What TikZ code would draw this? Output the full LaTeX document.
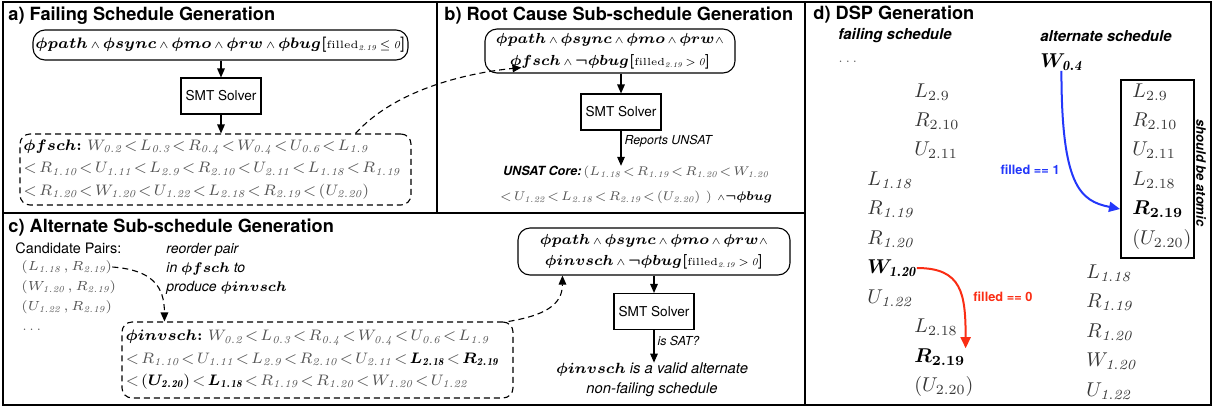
\RequirePackage{fix-cm}
\documentclass[tikz,border=0pt]{standalone}
\usepackage{amsmath,amssymb}
\usepackage{fontspec}
\setsansfont{TeX Gyre Heros}
\usetikzlibrary{arrows.meta,calc}

\definecolor{schgray}{RGB}{85,85,85}
\definecolor{dspgray}{RGB}{55,55,55}
\definecolor{fillblue}{RGB}{35,55,250}
\definecolor{fillred}{RGB}{250,45,20}

\newcommand{\ph}[1]{\boldsymbol{\phi #1}}
\newcommand{\aand}{\mathbin{\scriptstyle\wedge}}
\newcommand{\ev}[2]{#1_{\mathit{#2}}}
\newcommand{\bev}[2]{\boldsymbol{#1_{\mathit{#2}}}}
\newcommand{\filc}[1]{\boldsymbol{[}{\scriptstyle\mathrm{filled}_{\mathit{2.19}}\,#1\,\mathit{0}}\boldsymbol{]}}
% tight spacing round < and the wedges
\thickmuskip=2mu
\medmuskip=2.5mu

\begin{document}
\begin{tikzpicture}[x=0.5pt, y=-0.5pt,
  frame/.style={line width=0.75pt},
  ttl/.style={anchor=west, inner sep=0pt, font=\sffamily\bfseries\fontsize{9.1}{11}\selectfont},
  formula/.style={draw, rounded corners=6pt, line width=0.55pt, align=center, inner sep=1pt, font=\fontsize{7.3}{11}\selectfont},
  smt/.style={draw, line width=0.55pt, minimum width=40pt, minimum height=18pt, inner sep=0pt, font=\sffamily\fontsize{6.8}{8}\selectfont},
  sched/.style={draw, dash pattern=on 3pt off 2pt, rounded corners=5pt, line width=0.55pt, align=left, inner sep=1pt, text=schgray, font=\fontsize{7.6}{11.2}\selectfont},
  note/.style={font=\sffamily\itshape\fontsize{6.2}{7}\selectfont, inner sep=1.5pt},
  plain/.style={font=\sffamily\fontsize{7.2}{10}\selectfont, inner sep=0pt, anchor=west},
  item/.style={anchor=west, inner sep=0pt, text=schgray, font=\fontsize{6.6}{9}\selectfont},
  ditem/.style={item, text=dspgray, font=\fontsize{10}{12}\selectfont},
  dots/.style={anchor=west, inner sep=0pt, text=schgray, font=\fontsize{6}{7}\selectfont},
  head/.style={font=\sffamily\bfseries\itshape\fontsize{7.5}{9}\selectfont},
  flbl/.style={font=\sffamily\bfseries\fontsize{6.4}{8}\selectfont, inner sep=0pt},
  arr/.style={line width=0.55pt, -{Triangle[length=4.5pt,width=3.8pt]}},
  darr/.style={arr, dash pattern=on 3pt off 2pt},
  farr/.style={line width=1pt, -{Triangle[length=5.5pt,width=5pt]}},
]
\useasboundingbox (0,0) rectangle (1214,408);

% panel frames
\draw[frame] (3,2) rectangle (1211,405);
\draw[frame] (437,2) -- (437,213);
\draw[frame] (3,213) -- (805,213);
\draw[frame] (805,2) -- (805,405);

\node[ttl] (ta) at (8,16) {a) Failing Schedule Generation};
\node[ttl] (tb) at (444,16) {b) Root Cause Sub-schedule Generation};
\node[ttl] (tc) at (8,228) {c) Alternate Sub-schedule Generation};
\node[ttl] (td) at (813,15) {d) DSP Generation};

% a) failing schedule
\node[formula, minimum width=187.5pt, minimum height=15pt, font=\fontsize{7.6}{11}\selectfont] (failf) at (220.5,45)
  {$\ph{path}\aand\ph{sync}\aand\ph{mo}\aand\ph{rw}\aand\ph{bug}\filc{\le}$};
\node[smt] (smta) at (221,96) {SMT Solver};
\node[sched, minimum width=195.5pt, minimum height=35.5pt, text width=192pt] (fsch) at (215.5,169.5)
  {$\color{black}\boldsymbol{\phi fsch{:}}$ $\ev W{0.2} < \ev L{0.3} < \ev R{0.4} < \ev W{0.4} < \ev U{0.6} < \ev L{1.9}$\\
   $< \ev R{1.10} < \ev U{1.11} < \ev L{2.9} < \ev R{2.10} < \ev U{2.11} < \ev L{1.18} < \ev R{1.19}$\\
   $< \ev R{1.20} < \ev W{1.20} < \ev U{1.22} < \ev L{2.18} < \ev R{2.19} < (\ev U{2.20})$};
\draw[arr] (failf.south -| smta.north) -- (smta.north);
\draw[arr] (smta.south) -- (smta.south |- fsch.north);

% b) root cause
\node[formula, minimum width=125pt, minimum height=22pt] (rcf) at (610,51)
  {$\ph{path}\aand\ph{sync}\aand\ph{mo}\aand\ph{rw}\aand$\\
   $\ph{fsch}\aand\boldsymbol{\neg}\ph{bug}\filc{>}$};
\node[smt] (smtb) at (621,112) {SMT Solver};
\node[align=center, inner sep=0pt, font=\fontsize{6.3}{12.5}\selectfont] (core) at (636,185)
  {\textsf{\fontsize{6.3}{8}\selectfont\bfseries\itshape UNSAT Core:}{\color{schgray}$\;(\ev L{1.18} < \ev R{1.19} < \ev R{1.20} < \ev W{1.20}$}\\
   {\color{schgray}$< \ev U{1.22} < \ev L{2.18} < \ev R{2.19} < (\ev U{2.20})\ )$} $\aand\boldsymbol{\neg\phi bug}$};
\draw[arr] (rcf.south -| smtb.north) -- (smtb.north);
\draw[arr] (smtb.south) -- (smtb.south |- core.north) node[pos=0.3, right, note] {Reports UNSAT};
\draw[darr] ($(fsch.north east)+(-56,0)$) .. controls +(38,-42) and +(-60,6) .. ($(rcf.south west)+(37,-6)$);

% c) alternate schedule
\node[plain] (cand) at (15,248) {Candidate Pairs:};
\node[item] (p1) at (21,267) {$(\ev L{1.18}\,, \ev R{2.19})$};
\node[item] (p2) at (21,287) {$(\ev W{1.20}\,, \ev R{2.19})$};
\node[item] (p3) at (21,307) {$(\ev U{1.22}\,, \ev R{2.19})$};
\node[dots] (pdots) at (22,330) {$\ldots$};
\node[anchor=west, align=left, inner sep=0pt, font=\sffamily\itshape\fontsize{7}{9.5}\selectfont] (reord) at (166,269)
  {reorder pair\\in $\ph{fsch}$ to\\produce $\ph{invsch}$};
\node[sched, minimum width=195.5pt, minimum height=38pt, text width=192pt] (invsch) at (317.5,360)
  {$\color{black}\boldsymbol{\phi invsch{:}}$ $\ev W{0.2} < \ev L{0.3} < \ev R{0.4} < \ev W{0.4} < \ev U{0.6} < \ev L{1.9}$\\
   $< \ev R{1.10} < \ev U{1.11} < \ev L{2.9} < \ev R{2.10} < \ev U{2.11} < {\color{black}\bev L{2.18}} < {\color{black}\bev R{2.19}}$\\
   $< {\color{black}(\bev U{2.20})} < {\color{black}\bev L{1.18}} < \ev R{1.19} < \ev R{1.20} < \ev W{1.20} < \ev U{1.22}$};
\draw[darr] (p1.east) .. controls +(40,3) and +(0,-35) .. ($(invsch.north west)+(43,0)$);
\node[formula, minimum width=136pt, minimum height=23.5pt, font=\fontsize{7.3}{10.5}\selectfont] (invf) at (654,251.5)
  {$\ph{path}\aand\ph{sync}\aand\ph{mo}\aand\ph{rw}\aand$\\
   $\ph{invsch}\aand\boldsymbol{\neg}\ph{bug}\filc{>}$};
\node[smt] (smtc) at (654,311.5) {SMT Solver};
\node[align=center, inner sep=0pt, font=\sffamily\itshape\fontsize{7.4}{10}\selectfont] (valid) at (652,380)
  {$\ph{invsch}$ is a valid alternate\\non-failing schedule};
\draw[arr] (invf.south -| smtc.north) -- (smtc.north);
\draw[arr] (smtc.south) -- (smtc.south |- valid.north) node[pos=0.35, right, note] {is SAT?};
\draw[darr] ($(invsch.north east)+(-5,0)$) .. controls +(35,-6) and +(0,30) .. ($(invf.south west)+(45,0)$);

% d) DSP generation
\node[head] (fhead) at (895,36) {failing schedule};
\node[head] (ahead) at (1106,36) {alternate schedule};
\node[dots] (fdots) at (838,62) {$\ldots$};
\node[ditem, text=black] (aw04) at (1040,62) {$\bev W{0.4}$};

\foreach \nm/\xx/\yy/\tx in {fl29/914/92/{L_{2.9}}, fr210/914/121/{R_{2.10}}, fu211/914/150/{U_{2.11}},
    fl118/867/180/{\ev L{1.18}}, fr119/867/209/{\ev R{1.19}}, fr120/867/239/{\ev R{1.20}},
    fu122/867/298/{\ev U{1.22}}, fl218/914/327/{L_{2.18}}, fu220/914/386/{(U_{2.20})},
    al29/1132/92/{L_{2.9}}, ar210/1132/121/{R_{2.10}}, au211/1132/150/{U_{2.11}},
    al218/1132/180/{L_{2.18}}, au220/1132/239/{(U_{2.20})},
    al118/1086/273/{\ev L{1.18}}, ar119/1086/302/{\ev R{1.19}}, ar120/1086/332/{\ev R{1.20}},
    aw120/1086/361/{\ev W{1.20}}, au122/1086/391/{\ev U{1.22}}}
  \node[ditem] (\nm) at (\xx,\yy) {$\tx$};
\node[ditem, text=black] (fw120) at (867,268) {$\bev W{1.20}$};
\node[ditem, text=black] (fr219) at (914,357) {$\boldsymbol{R_{2.19}}$};
\node[ditem, text=black] (ar219) at (1132,209) {$\boldsymbol{R_{2.19}}$};

\node[draw, line width=1pt, minimum width=36.5pt, minimum height=89pt, inner sep=0pt] (atom) at (1157.5,169) {};
\node[rotate=-90, font=\sffamily\bfseries\itshape\fontsize{6.5}{8}\selectfont] (atomic) at (1201,173) {should be atomic};

\draw[farr, fillblue] (aw04.south) .. controls +(0,115) and +(-40,-8) .. (atom.west |- ar219.west);
\node[flbl, text=fillblue, anchor=east] (fone) at (1060,170) {filled == 1};
\draw[farr, fillred] (fw120.east) .. controls +(45,0) and +(0,-55) .. (fr219.north east);
\node[flbl, text=fillred, anchor=west] (fzero) at (973,297) {filled == 0};
\end{tikzpicture}
\end{document}
